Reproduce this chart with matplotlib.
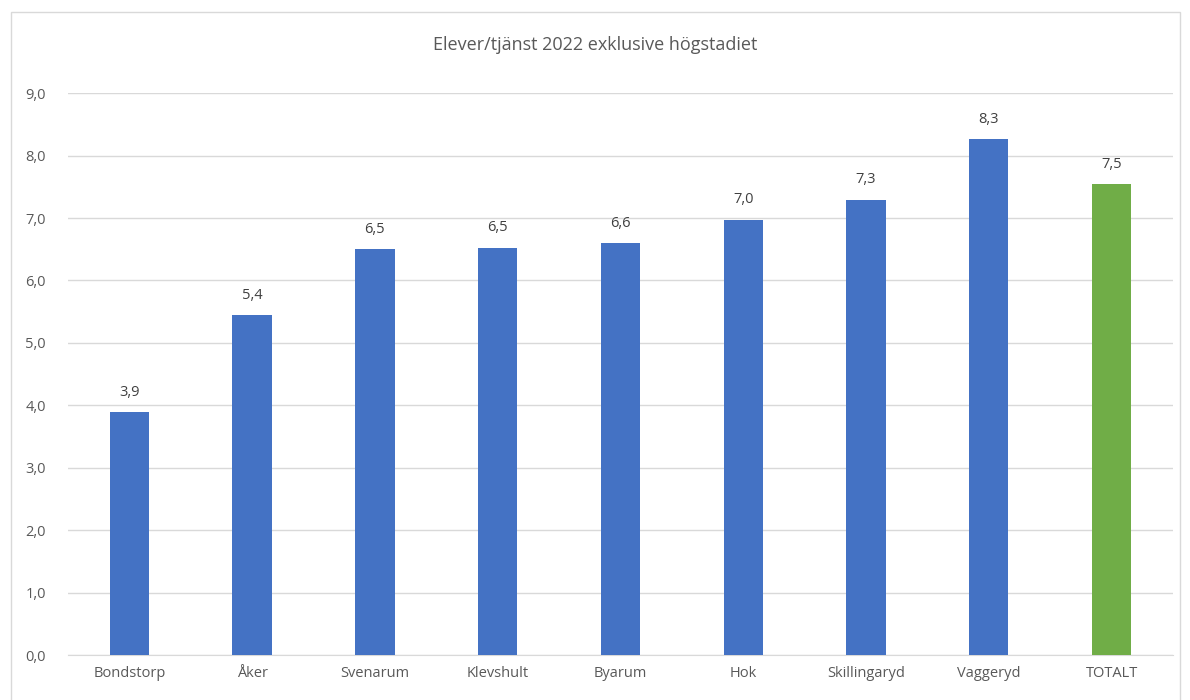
import matplotlib.pyplot as plt
from matplotlib.patches import Rectangle

categories = ["Bondstorp", "Åker", "Svenarum", "Klevshult", "Byarum",
              "Hok", "Skillingaryd", "Vaggeryd", "TOTALT"]
values = [3.89, 5.44, 6.50, 6.52, 6.60, 6.97, 7.29, 8.26, 7.54]
colors = ["#4472C4"] * 8 + ["#70AD47"]
yticks = [0, 1, 2, 3, 4, 5, 6, 7, 8, 9]

plt.rcParams['font.family'] = ['Open Sans', 'DejaVu Sans']
text_color = "#595959"

fig = plt.figure(figsize=(11.9, 7), dpi=100)
ax = fig.add_axes([0.0571, 0.064, 0.9286, 0.803])

# chart border like the spreadsheet frame
fig.patches.append(Rectangle((0.009, -0.01), 0.983, 0.993, transform=fig.transFigure,
                             fill=False, edgecolor="#D9D9D9", linewidth=1))

x = range(len(categories))
bars = ax.bar(x, values, width=0.32, color=colors, zorder=3)

for xi, v in zip(x, values):
    ax.text(xi, v + 0.2, f"{v:.1f}".replace(".", ","), ha="center", va="bottom",
            fontsize=10.5, color="#404040")

ax.set_ylim(0, 9)
ax.set_xlim(-0.5, len(categories) - 0.5)
ax.set_yticks(yticks)
ax.set_yticklabels([f"{t:.1f}".replace(".", ",") for t in yticks])
ax.set_xticks(list(x))
ax.set_xticklabels(categories)
ax.tick_params(axis="both", length=0, labelsize=10.5, labelcolor=text_color)
ax.tick_params(axis="y", pad=16)
ax.tick_params(axis="x", pad=8)
ax.grid(axis="y", color="#D9D9D9", linewidth=1, zorder=0)
for s in ["top", "right", "left"]:
    ax.spines[s].set_visible(False)
ax.spines["bottom"].set_color("#D9D9D9")

fig.text(0.5, 0.935, "Elever/tjänst 2022 exklusive högstadiet", ha="center", va="center",
         fontsize=13, color=text_color)

fig.savefig("out.png", dpi=100)
